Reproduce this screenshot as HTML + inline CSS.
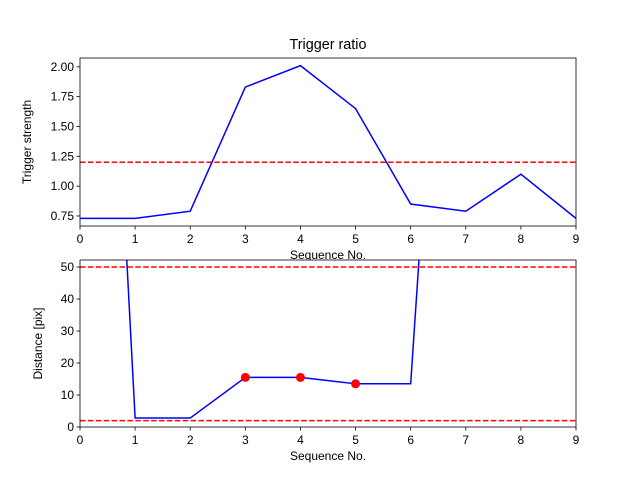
<!DOCTYPE html>
<html><head><meta charset="utf-8"><style>
body{margin:0;background:#fff}
svg text{font-family:"Liberation Sans","DejaVu Sans",sans-serif;fill:#000}
</style></head><body>
<svg id="c" width="640" height="480" xmlns="http://www.w3.org/2000/svg">
<defs>
<clipPath id="clip1"><rect x="80" y="58" width="496" height="168"/></clipPath>
<clipPath id="clip2"><rect x="80" y="260" width="496" height="167"/></clipPath>
</defs>
</svg>
<script>
const categories=[0,1,2,3,4,5,6,7,8,9];
const ratioValues=[0.73,0.73,0.79,1.83,2.01,1.65,0.85,0.79,1.10,0.73];
const ratioThreshold=[1.2];
const ratioTicks=["0.75","1.00","1.25","1.50","1.75","2.00"];
const distValues=[330,2.8,2.8,15.5,15.5,13.5,13.5,270,300,300];
const distMarked=[3,4,5];
const distThresholds=[50,2];
const distTicks=["0","10","20","30","40","50"];
const xTicks=["0","1","2","3","4","5","6","7","8","9"];

const NS="http://www.w3.org/2000/svg";
const svg=document.getElementById('c');
function el(t,a,p){const e=document.createElementNS(NS,t);for(const k in a)e.setAttribute(k,a[k]);(p||svg).appendChild(e);return e;}
const L=80,R=576;
const x=v=>L+(v-0)/(9-0)*(R-L);
const y1=v=>226-(v-0.666)/(2.074-0.666)*168;
const y2=v=>427-(v-0)/(52.2-0)*167;

function axes(top,bot,yfn,ticks,ylabel,name,clip){
  const g=el('g',{});
  
  
  el('rect',{x:L,y:top,width:R-L,height:bot-top,fill:'#fff'},g);
  xTicks.forEach(t=>{const xx=x(+t);
    el('line',{x1:xx,x2:xx,y1:bot,y2:bot+3.5,stroke:'#000','stroke-width':0.8},g);
    const tx=el('text',{x:xx,y:bot+17,'font-size':12,'text-anchor':'middle'},g);tx.textContent=t;
    
    });
  ticks.forEach(t=>{const yy=yfn(+t);
    el('line',{x1:L-3.5,x2:L,y1:yy,y2:yy,stroke:'#000','stroke-width':0.8},g);
    const tx=el('text',{x:L-6,y:yy+4,'font-size':12,'text-anchor':'end'},g);tx.textContent=t;
    
    });
  const yl=el('text',{x:0,y:0,'font-size':12,'text-anchor':'middle',transform:`translate(${ylabel[1]},${(top+bot)/2}) rotate(-90)`},g);
  yl.textContent=ylabel[0];
  
  
  const xl=el('text',{x:(L+R)/2,y:bot+33,'font-size':12,'text-anchor':'middle'},g);xl.textContent='Sequence No.';
  
  
  const pg=el('g',{'clip-path':`url(#${clip})`},g);
  return [g,pg];
}
// top
const [g1,p1]=axes(58,226,y1,ratioTicks,['Trigger strength',31],'ratio-axes','clip1');
ratioThreshold.forEach(v=>{const l=el('line',{x1:L,x2:R,y1:y1(v),y2:y1(v),stroke:'red','stroke-width':1.5,'stroke-dasharray':'5.5,2.4'},p1);
  
  });
const l1=el('polyline',{points:categories.map((c,i)=>x(c)+','+y1(ratioValues[i])).join(' '),fill:'none',stroke:'blue','stroke-width':1.5},p1);


el('rect',{x:L,y:58,width:R-L,height:168,fill:'none',stroke:'#000','stroke-width':0.8},g1);
const t=el('text',{x:(L+R)/2,y:49,'font-size':14.4,'text-anchor':'middle'});t.textContent='Trigger ratio';


// bottom
const [g2,p2]=axes(260,427,y2,distTicks,['Distance [pix]',42],'distance-axes','clip2');
distThresholds.forEach(v=>{const l=el('line',{x1:L,x2:R,y1:y2(v),y2:y2(v),stroke:'red','stroke-width':1.5,'stroke-dasharray':'5.5,2.4'},p2);
  
  });
const l2=el('polyline',{points:categories.map((c,i)=>x(c)+','+y2(distValues[i])).join(' '),fill:'none',stroke:'blue','stroke-width':1.5},p2);


distMarked.forEach(i=>{const c=el('circle',{cx:x(categories[i]),cy:y2(distValues[i]),r:4.5,fill:'red'},p2);
  
  });
el('rect',{x:L,y:260,width:R-L,height:167,fill:'none',stroke:'#000','stroke-width':0.8},g2);
</script>
</body></html>
